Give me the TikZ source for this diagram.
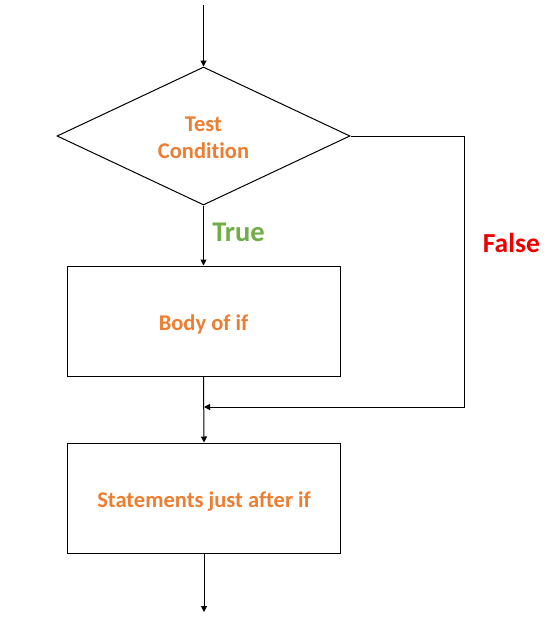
\documentclass[tikz,border=0pt]{standalone}
\usepackage{fontspec}
\setmainfont{Carlito}[RawFeature=-liga]
\usetikzlibrary{shapes.geometric,arrows.meta,positioning,calc}
\definecolor{condorange}{RGB}{237,125,49}
\definecolor{truegreen}{RGB}{112,173,71}
\definecolor{falsered}{RGB}{238,0,0}

\tikzset{
  decision/.style={draw, diamond, aspect=2, inner sep=0pt, minimum width=293pt, minimum height=138pt,
    align=center, text height=45pt, text depth=0pt, text=condorange,
    font=\bfseries\fontsize{22.5}{27}\selectfont},
  block/.style={draw, rectangle, inner sep=0pt, minimum width=273pt, minimum height=110pt,
    align=center, text height=22pt, text depth=4pt, text=condorange,
    font=\bfseries\fontsize{22.5}{27}\selectfont},
  truelabel/.style={text=truegreen, font=\bfseries\fontsize{28.5}{34}\selectfont},
  falselabel/.style={text=falsered, font=\bfseries\fontsize{27.5}{33}\selectfont}
}

\begin{document}
\begin{tikzpicture}[x=1pt, y=-1pt, line width=1pt, >={Triangle[length=6pt,width=6pt]}]
\useasboundingbox (0,0) rectangle (553,622);

% Condition and blocks
\node[decision] (test) at (203.5,136) {Test\\Condition};
\node[block] (body) at (203.5,321) {Body of if};
\node[block] (after) at (204,498) {Statements just after if};

% Free ends and turns
\coordinate (start) at (203.5,5);
\coordinate (stop) at (204,612);
\coordinate (falseturn) at (464,136);
\coordinate (falsedown) at (464,407);
\coordinate (merge) at (204,407);

% Flow
\draw[->] (start) -- (test.north);
\draw[->] (test.south) -- (body.north) node[pos=0.44, right=5pt, truelabel] {True};
\draw[->] (test.east) -- (falseturn) -- (falsedown) node[pos=0.395, right=15pt, falselabel] {False} -- (merge);
\draw[->] (body.south) -- (after.north);
\draw[->] (after.south) -- (stop);
\end{tikzpicture}
\end{document}
